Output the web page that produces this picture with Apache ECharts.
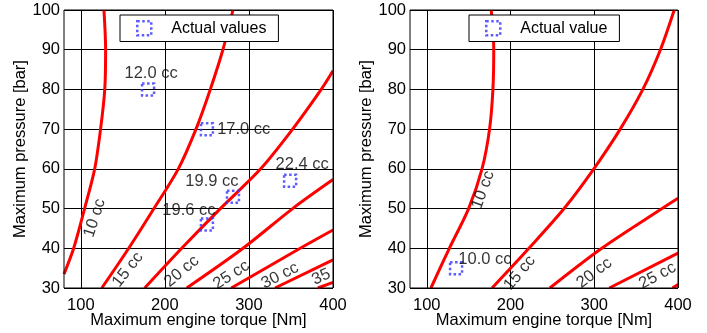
<!DOCTYPE html>
<html>
<head>
<meta charset="utf-8">
<script src="https://cdn.jsdelivr.net/npm/echarts@6/dist/echarts.min.js"></script>
<style>
  html, body { margin: 0; padding: 0; background: #fff; }
  #chart { width: 707px; height: 333px; }
</style>
</head>
<body>
<div id="chart"></div>
<script>
// ticks
const xTicks = [100, 200, 300, 400];
const yMin = 30, yMax = 100;

// left panel: constant displacement curves [torque Nm, pressure bar]
const leftCurveNames = ['10', '15', '20', '25', '30', '35', '40'];
const left10 = [[80, 33.5], [91.5, 40], [104.5, 50], [116.5, 60], [123.5, 70], [128.5, 80], [129.5, 90], [127.5, 100]];
const left15 = [[125, 30], [157, 40], [187, 50], [216, 60], [237, 70], [254, 80], [269, 90], [281, 100]];
const left20 = [[176, 30], [220, 40], [266, 50], [314, 60], [352, 70], [386, 80], [400, 84.7]];
const left25 = [[226, 30], [293, 40], [352, 50], [400, 57.3]];
const left30 = [[279, 30], [361, 40], [400, 44.6]];
const left35 = [[331, 30], [400, 37.1]];
const left40 = [[382, 30], [400, 31.4]];

// right panel curves
const rightCurveNames = ['10', '15', '20', '25', '30'];
const right10 = [[105, 30], [127, 40], [150, 50], [166, 60], [175, 70], [179, 80], [180, 90], [177, 100]];
const right15 = [[178, 30], [222, 40], [264, 50], [299.5, 60], [331, 70], [358, 80], [379, 90], [395.5, 100]];
const right20 = [[247, 30], [309, 40], [381, 50], [400, 52.6]];
const right25 = [[318, 30], [400, 38.8]];
const right30 = [[393.5, 30], [400, 30.9]];

// actual values
const leftActual = [[180, 80], [250, 70], [349, 57], [281, 53], [250, 46]];
const leftActualText = ['12.0 cc', '17.0 cc', '22.4 cc', '19.9 cc', '19.6 cc'];
const rightActual = [[135, 35]];
const rightActualText = ['10.0 cc'];

// curve label anchors
const leftLabelPos = [[116.5, 47.6], [156, 34.6], [220, 34.2], [279, 33.3], [337, 33.1], [386, 32.8]];
const leftLabelText = ['10 cc', '15 cc', '20 cc', '25 cc', '30 cc', '35'];
const rightLabelPos = [[167.3, 54.7], [211, 33.8], [300, 33.8], [375.6, 33.1]];
const rightLabelText = ['10 cc', '15 cc', '20 cc', '25 cc'];

// styles
const FONT = 'Liberation Sans, Arial, sans-serif';
const FS = 16.5;
const MARK = { color: 'rgba(0,0,0,0)', borderColor: '#3434ff', borderWidth: 2.5, borderType: 'dotted' };
const leftLabelRot = [72, 52, 40, 33, 27, 25];
const rightLabelRot = [70, 50, 37, 28];
const leftActualLabel = [
  { position: 'top', distance: 1, offset: [3, 1] },
  { position: 'right', distance: 3, offset: [0, 0] },
  { position: 'top', distance: 1, offset: [12, 0] },
  { position: 'top', distance: 1, offset: [-21, 2] },
  { position: 'top', distance: 1, offset: [-18, 3] }
];
const rightActualLabel = [{ position: 'right', distance: 2, offset: [-7, -9] }];

const chart = echarts.init(document.getElementById('chart'), null, { renderer: 'canvas' });

function curveSeries(name, data, idx) {
  return {
    name: name + ' cc', type: 'line', xAxisIndex: idx, yAxisIndex: idx,
    data: data, showSymbol: false, smooth: 0.3, silent: true,
    lineStyle: { color: '#ff0000', width: 3 }, z: 3
  };
}
function labelSeries(pos, text, rot, idx) {
  return {
    type: 'scatter', xAxisIndex: idx, yAxisIndex: idx, symbolSize: 0, silent: true, z: 4,
    data: pos.map((p, i) => ({
      value: p, name: text[i],
      label: { show: true, position: 'inside', rotate: rot[i], formatter: '{b}',
        color: '#000', fontSize: FS, fontFamily: FONT }
    }))
  };
}
function actualSeries(name, pts, text, lab, idx) {
  return {
    name: name, type: 'scatter', xAxisIndex: idx, yAxisIndex: idx, symbol: 'rect', symbolSize: 12,
    silent: true, z: 5,
    itemStyle: MARK,
    data: pts.map((p, i) => ({
      value: p, name: text[i],
      label: Object.assign({ show: true, formatter: '{b}', color: '#000', fontSize: FS, fontFamily: FONT }, lab[i])
    }))
  };
}
function xAx(idx) {
  return {
    type: 'value', gridIndex: idx, min: 80, max: 400,
    name: 'Maximum engine torque [Nm]', nameLocation: 'middle', nameGap: 24, nameMoveOverlap: false,
    nameTextStyle: { color: '#000', fontSize: FS, fontFamily: FONT },
    axisLine: { show: false }, axisTick: { show: false, customValues: xTicks },
    axisLabel: { customValues: xTicks, color: '#000', fontSize: FS, fontFamily: FONT, margin: 9 },
    splitLine: { show: true, lineStyle: { color: '#000', width: 1 } }
  };
}
function yAx(idx) {
  return {
    type: 'value', gridIndex: idx, min: yMin, max: yMax, interval: 10,
    name: 'Maximum pressure [bar]', nameLocation: 'middle', nameGap: 28,
    nameTextStyle: { color: '#000', fontSize: FS, fontFamily: FONT },
    axisLine: { show: false }, axisTick: { show: false },
    axisLabel: { color: '#000', fontSize: FS, fontFamily: FONT, margin: 4 },
    splitLine: { show: true, lineStyle: { color: '#000', width: 1 } }
  };
}
function legendBox(name, left) {
  return {
    data: [name], left: left, top: 15, orient: 'horizontal',
    borderColor: '#000', borderWidth: 1, borderRadius: 0, backgroundColor: '#fff',
    padding: [5, 12, 5, 16], itemWidth: 14, itemHeight: 14,
    itemStyle: MARK,
    textStyle: { color: '#000', fontSize: 16, fontFamily: FONT, padding: [0, 0, 0, 15] },
    selectedMode: false
  };
}

const leftCurves = [left10, left15, left20, left25, left30, left35, left40];
const rightCurves = [right10, right15, right20, right25, right30];

const option = {
  animation: false,
  backgroundColor: '#fff',
  grid: [
    { left: 64, top: 10, width: 269, height: 278, outerBoundsMode: 'none', containLabel: false,
      show: true, borderColor: '#000', borderWidth: 1, backgroundColor: 'transparent', z: 6 },
    { left: 410, top: 10, width: 268, height: 278, outerBoundsMode: 'none', containLabel: false,
      show: true, borderColor: '#000', borderWidth: 1, backgroundColor: 'transparent', z: 6 }
  ],
  xAxis: [xAx(0), xAx(1)],
  yAxis: [yAx(0), yAx(1)],
  legend: [legendBox('Actual values', 120), legendBox('Actual value', 469)],
  series: [].concat(
    leftCurves.map((c, i) => curveSeries(leftCurveNames[i], c, 0)),
    rightCurves.map((c, i) => curveSeries(rightCurveNames[i], c, 1)),
    [labelSeries(leftLabelPos, leftLabelText, leftLabelRot, 0),
     labelSeries(rightLabelPos, rightLabelText, rightLabelRot, 1),
     actualSeries('Actual values', leftActual, leftActualText, leftActualLabel, 0),
     actualSeries('Actual value', rightActual, rightActualText, rightActualLabel, 1)]
  )
};
chart.setOption(option);
</script>
</body>
</html>
